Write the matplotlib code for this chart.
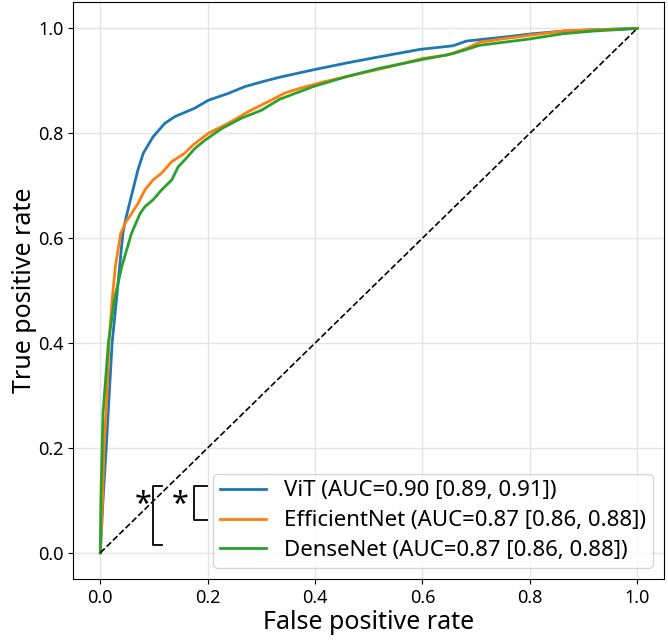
import matplotlib
matplotlib.use("Agg")
import matplotlib.pyplot as plt

plt.rcParams['font.family'] = ['Noto Sans', 'DejaVu Sans']

# ROC points
vit_fpr = [0.0, 0.005, 0.011, 0.016, 0.022, 0.030, 0.036, 0.042, 0.047, 0.056, 0.070, 0.080,
           0.098, 0.120, 0.139, 0.176, 0.201, 0.238, 0.269, 0.300, 0.334, 0.396, 0.458, 0.520,
           0.595, 0.657, 0.682, 0.756, 0.806, 0.862, 0.930, 1.0]
vit_tpr = [0.0, 0.101, 0.200, 0.292, 0.400, 0.482, 0.546, 0.609, 0.635, 0.673, 0.730, 0.762,
           0.793, 0.819, 0.832, 0.848, 0.863, 0.876, 0.889, 0.898, 0.907, 0.921, 0.934, 0.946,
           0.960, 0.967, 0.976, 0.984, 0.990, 0.995, 0.998, 1.0]

eff_fpr = [0.0, 0.004, 0.007, 0.012, 0.016, 0.022, 0.028, 0.038, 0.047, 0.055, 0.070, 0.083,
           0.098, 0.114, 0.133, 0.157, 0.173, 0.201, 0.238, 0.275, 0.312, 0.344, 0.372, 0.415,
           0.471, 0.539, 0.601, 0.645, 0.682, 0.707, 0.756, 0.800, 0.862, 0.905, 1.0]
eff_tpr = [0.0, 0.100, 0.200, 0.292, 0.400, 0.482, 0.546, 0.609, 0.630, 0.642, 0.666, 0.692,
           0.711, 0.724, 0.746, 0.762, 0.778, 0.800, 0.819, 0.841, 0.860, 0.877, 0.886, 0.898,
           0.911, 0.927, 0.943, 0.949, 0.962, 0.974, 0.981, 0.987, 0.995, 0.997, 1.0]

dense_fpr = [0.0, 0.001, 0.005, 0.015, 0.026, 0.040, 0.058, 0.074, 0.083, 0.098, 0.114, 0.133,
             0.145, 0.157, 0.176, 0.195, 0.226, 0.263, 0.300, 0.334, 0.396, 0.458, 0.520, 0.601,
             0.657, 0.707, 0.800, 0.862, 0.918, 1.0]
dense_tpr = [0.0, 0.101, 0.266, 0.400, 0.482, 0.546, 0.609, 0.647, 0.660, 0.673, 0.692, 0.711,
             0.736, 0.749, 0.771, 0.787, 0.809, 0.829, 0.844, 0.865, 0.889, 0.908, 0.924, 0.941,
             0.952, 0.968, 0.980, 0.990, 0.995, 1.0]

labels = ["ViT (AUC=0.90 [0.89, 0.91])",
          "EfficientNet (AUC=0.87 [0.86, 0.88])",
          "DenseNet (AUC=0.87 [0.86, 0.88])"]

fig = plt.figure(figsize=(6.68, 6.43), dpi=100)
ax = fig.add_axes([0.110, 0.0995, 0.884, 0.897])

ax.plot(vit_fpr, vit_tpr, color='#1f77b4', lw=2, label=labels[0])
ax.plot(eff_fpr, eff_tpr, color='#ff7f0e', lw=2, label=labels[1])
ax.plot(dense_fpr, dense_tpr, color='#2ca02c', lw=2, label=labels[2])
ax.plot([0, 1], [0, 1], 'k--', lw=1.2)

ax.grid(True, color='#e4e4e4', lw=1)
ax.set_axisbelow(True)
ax.tick_params(labelsize=13)
ax.set_xlabel("False positive rate", fontsize=18, labelpad=2)
ax.set_ylabel("True positive rate", fontsize=18, labelpad=1)
ax.legend(loc='lower right', fontsize=16, handlelength=2.1, labelspacing=0.4,
          borderpad=0.3)

# significance brackets
br1_x, br1_tip, br1_top, br1_bot = 0.098, 0.115, 0.128, 0.0145
br2_x, br2_tip, br2_top, br2_bot = 0.175, 0.198, 0.128, 0.0635
for x0, x1, y0, y1 in [(br1_x, br1_tip, br1_top, br1_bot), (br2_x, br2_tip, br2_top, br2_bot)]:
    ax.plot([x1, x0, x0, x1], [y0, y0, y1, y1], color='k', lw=1.3, clip_on=False)
ax.text(0.079, 0.092, "*", fontsize=22, ha='center', va='center')
ax.text(0.149, 0.092, "*", fontsize=22, ha='center', va='center')

fig.savefig("out.png", dpi=100)
